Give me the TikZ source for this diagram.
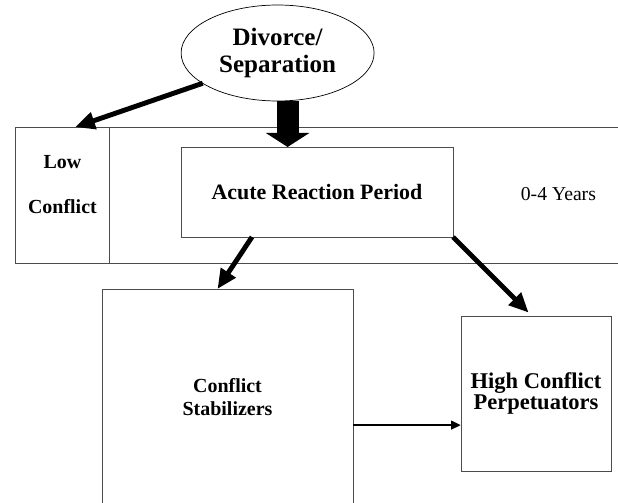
\documentclass[tikz,border=0pt]{standalone}
\usepackage{fontspec}
\setmainfont{Liberation Serif}
\usetikzlibrary{arrows.meta,shapes.geometric}
\begin{document}
\begin{tikzpicture}[
    box/.style={rectangle, draw=black!70, line width=0.7pt, inner sep=0pt, outer sep=0pt, align=center},
    band/.style={draw=black!70, line width=0.7pt},
    bigarrow/.style={line width=3.5pt, -{Triangle[length=14pt,width=12pt]}},
    fatarrow/.style={line width=15.6pt, -{Triangle[length=10pt,width=30.6pt]}},
    thinarrow/.style={line width=1.8pt, -{Triangle[length=7pt,width=6pt]}}
]
\useasboundingbox (0,0) rectangle (15.45,12.55);
\clip (0,0) rectangle (15.45,12.55);
% event at the top
\node[ellipse, draw, line width=0.5pt, inner sep=0pt, outer sep=0pt, minimum width=4.825cm, minimum height=2.4cm, align=center,
    font=\fontsize{17.8}{19.5}\selectfont\bfseries] (div) at (6.94,11.225) {Divorce/\\Separation};
% the 0-4 year band
\node[box, minimum width=2.33cm, minimum height=3.41cm] (lc) at (1.56,7.6675) {};
\node[align=center, font=\fontsize{14.2}{32}\selectfont\bfseries] (lctext) at (1.56,7.9375) {Low\\Conflict};
\draw[band] (lc.north east) -- ++(13,0);
\draw[band] (lc.south east) -- ++(13,0);
\node[box, minimum width=6.8cm, minimum height=2.25cm, font=\fontsize{15.6}{17}\selectfont\bfseries] (acute) at (7.925,7.75) {Acute Reaction Period};
\node[font=\fontsize{14}{16}\selectfont] (years) at (13.96,7.7) {0-4 Years};
% outcomes
\node[box, minimum width=6.275cm, minimum height=5.425cm, font=\fontsize{14.2}{16.4}\selectfont\bfseries] (stab) at (5.6875,2.6125) {Conflict\\Stabilizers};
\node[box, minimum width=3.75cm, minimum height=3.875cm, font=\fontsize{16}{15}\selectfont\bfseries] (high) at (13.4,2.7125) {High Conflict\\Perpetuators};
% arrows
\draw[bigarrow] (div.202) -- ([xshift=0.32cm]lc.north);
\draw[fatarrow] ([xshift=0.25cm]div.south) -- ([xshift=0.25cm]div.south |- acute.north);
\draw[bigarrow] ([xshift=-1.625cm]acute.south) -- ([xshift=-0.25cm]stab.north);
\draw[bigarrow, shorten >=0.12cm] (acute.south east) -- ([xshift=-0.1cm]high.north);
\draw[thinarrow] ([yshift=-0.69cm]stab.east) -- ([yshift=-0.69cm]stab.east -| high.west);
\end{tikzpicture}
\end{document}
